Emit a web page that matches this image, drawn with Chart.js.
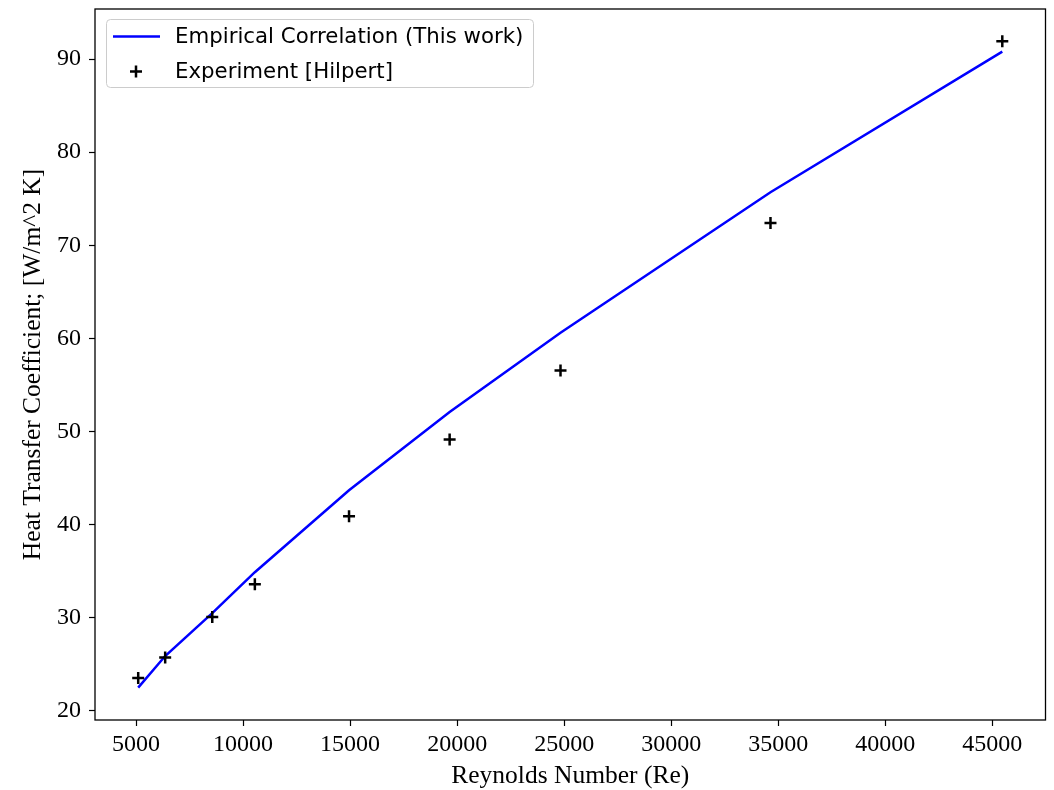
<!DOCTYPE html>
<html lang="en">
<head>
  <meta charset="UTF-8">
  <title>Heat Transfer Coefficient vs Reynolds Number</title>
  <script src="https://cdn.jsdelivr.net/npm/chart.js"></script>
  <style>
    html, body {
      margin: 0;
      padding: 0;
      background: #fff;
      overflow: hidden;
    }
    #wrap {
      width: 1054px;
      height: 790px;
    }
    #heatChart {
      display: block;
    }
  </style>
</head>
<body>
  <div id="wrap">
    <canvas id="heatChart" width="1054" height="790"></canvas>
  </div>

  <script>
    // data
    const reynolds = [5100, 6360, 8560, 10550, 14950, 19650, 24830, 34640, 45470];
    const hCorrelation = [22.5, 25.9, 30.5, 34.9, 43.7, 52.1, 60.6, 75.7, 90.8];
    const hExperiment = [23.55, 25.75, 30.1, 33.6, 40.9, 49.15, 56.55, 72.4, 91.9];
    const xTicks = [5000, 10000, 15000, 20000, 25000, 30000, 35000, 40000, 45000];
    const yTicks = [20, 30, 40, 50, 60, 70, 80, 90];
    const seriesNames = ['Empirical Correlation (This work)', 'Experiment [Hilpert]'];

    // matplotlib style 5% margins
    const xLo = Math.min(...reynolds), xHi = Math.max(...reynolds);
    const allY = hCorrelation.concat(hExperiment);
    const yLo = Math.min(...allY), yHi = Math.max(...allY);
    const xPad = (xHi - xLo) * 0.05, yPad = (yHi - yLo) * 0.05;

    const serif = 'Liberation Serif, Times New Roman, serif';

    const framePlugin = {
      id: 'frame',
      afterDatasetsDraw(chart) {
        const { ctx, chartArea: a } = chart;
        ctx.save();
        ctx.strokeStyle = '#000';
        ctx.lineWidth = 1.3;
        ctx.strokeRect(a.left, a.top, a.right - a.left, a.bottom - a.top);

        // legend box, upper left
        const bx = a.left + 11, by = a.top + 10, bw = 427, bh = 68;
        ctx.fillStyle = 'rgba(255,255,255,0.8)';
        ctx.strokeStyle = '#cccccc';
        ctx.lineWidth = 1;
        ctx.beginPath();
        ctx.roundRect(bx + 0.5, by + 0.5, bw, bh, 4);
        ctx.fill();
        ctx.stroke();

        const row1 = by + 17.5, row2 = by + 52.5;
        ctx.strokeStyle = '#0000ff';
        ctx.lineWidth = 2.5;
        ctx.beginPath();
        ctx.moveTo(bx + 7, row1);
        ctx.lineTo(bx + 54, row1);
        ctx.stroke();

        ctx.strokeStyle = '#000';
        ctx.lineWidth = 2.5;
        ctx.beginPath();
        ctx.moveTo(bx + 24, row2); ctx.lineTo(bx + 36, row2);
        ctx.moveTo(bx + 30, row2 - 6); ctx.lineTo(bx + 30, row2 + 6);
        ctx.stroke();

        ctx.fillStyle = '#000';
        ctx.font = '21.3px "DejaVu Sans"';
        ctx.textBaseline = 'middle';
        ctx.textAlign = 'left';
        ctx.fillText(seriesNames[0], bx + 69, row1 + 1);
        ctx.fillText(seriesNames[1], bx + 69, row2 + 1);
        ctx.restore();
      }
    };

    const ctx = document.getElementById('heatChart').getContext('2d');
    const heatChart = new Chart(ctx, {
      type: 'scatter',
      data: {
        datasets: [{
          label: seriesNames[1],
          data: reynolds.map((r, i) => ({ x: r, y: hExperiment[i] })),
          pointStyle: 'cross',
          pointRadius: 6,
          pointBorderWidth: 2.5,
          borderColor: '#000',
          backgroundColor: '#000',
          order: 0
        }, {
          type: 'line',
          label: seriesNames[0],
          data: reynolds.map((r, i) => ({ x: r, y: hCorrelation[i] })),
          borderColor: '#0000ff',
          borderWidth: 2.5,
          pointRadius: 0,
          tension: 0,
          fill: false,
          order: 1
        }]
      },
      options: {
        responsive: false,
        animation: false,
        layout: {
          padding: { top: 9, right: 5, left: 0, bottom: 0 }
        },
        plugins: {
          legend: { display: false },
          tooltip: { enabled: false }
        },
        scales: {
          x: {
            type: 'linear',
            min: xLo - xPad,
            max: xHi + xPad,
            afterBuildTicks: s => { s.ticks = xTicks.map(v => ({ value: v })); },
            afterFit: s => {
              s.height = 70;
              s.paddingLeft = 0;
              s.paddingRight = 0;
            },
            ticks: {
              color: '#000',
              font: { family: serif, size: 24 },
              padding: 4,
              maxRotation: 0,
              autoSkip: false,
              callback: v => String(v)
            },
            grid: {
              drawOnChartArea: false,
              tickLength: 6,
              tickColor: '#000',
              tickWidth: 1.2
            },
            border: { display: false },
            title: {
              display: true,
              text: 'Reynolds Number (Re)',
              color: '#000',
              font: { family: serif, size: 25.5, lineHeight: 1 },
              padding: { top: 0, bottom: 1 }
            }
          },
          y: {
            type: 'linear',
            min: yLo - yPad,
            max: yHi + yPad,
            afterBuildTicks: s => { s.ticks = yTicks.map(v => ({ value: v })); },
            afterFit: s => {
              s.width = 95;
              s.paddingTop = 0;
              s.paddingBottom = 0;
            },
            ticks: {
              color: '#000',
              font: { family: serif, size: 24 },
              padding: 8,
              autoSkip: false,
              callback: v => String(v)
            },
            grid: {
              drawOnChartArea: false,
              tickLength: 6,
              tickColor: '#000',
              tickWidth: 1.2
            },
            border: { display: false },
            title: {
              display: true,
              text: 'Heat Transfer Coefficient; [W/m^2 K]',
              color: '#000',
              font: { family: serif, size: 25.5, lineHeight: 1 },
              padding: { top: 21, bottom: 0 }
            }
          }
        }
      },
      plugins: [framePlugin]
    });
  </script>
</body>
</html>
